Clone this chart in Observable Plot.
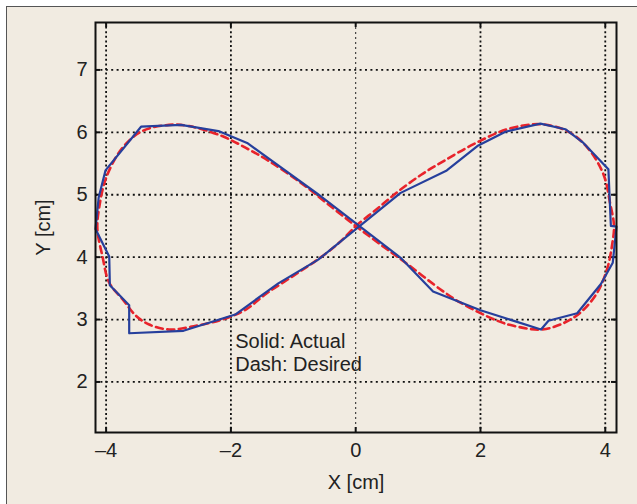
<!DOCTYPE html>
<html>
<head>
<meta charset="utf-8">
<script src="https://cdn.jsdelivr.net/npm/d3@7"></script>
<script src="https://cdn.jsdelivr.net/npm/@observablehq/plot@0.6"></script>
<style>
  html, body { margin: 0; padding: 0; background: #ffffff; }
  #panel { position: absolute; left: 6px; top: 6px; width: 640px; height: 510px;
           background: #f1ebe1; border-top: 1.5px solid #555; border-left: 1.5px solid #555; }
  #chart { position: absolute; left: 0; top: 0; }
  svg { font-family: "Liberation Sans", Arial, sans-serif; }
</style>
</head>
<body>
<div id="panel"></div>
<div id="chart"></div>
<script>
// Actual trajectory (solid blue)
const actualX = [0.72, 1.46, 1.95, 2.40, 2.96, 3.36, 3.65, 4.05, 4.09, 4.18, 4.12, 3.93, 3.55, 3.09, 2.97, 2.00, 1.24, 0.72,
                 -0.62, -1.74, -2.20, -2.80, -3.44, -4.01, -4.12, -4.17, -3.95, -3.94, -3.63, -3.63, -2.76, -1.93, -1.24, -0.60, 0.72];
const actualY = [5.03, 5.39, 5.78, 6.01, 6.14, 6.05, 5.83, 5.41, 4.50, 4.49, 3.91, 3.57, 3.10, 2.98, 2.84, 3.15, 3.45, 3.99,
                 5.02, 5.83, 6.02, 6.12, 6.09, 5.39, 4.95, 4.45, 4.01, 3.55, 3.23, 2.78, 2.82, 3.08, 3.58, 3.96, 5.03];

// Desired trajectory (dashed red)
const desiredX = [0.00, 0.35, 0.69, 1.05, 1.41, 1.89, 2.43, 2.96, 3.39, 3.71, 3.97, 4.08, 4.14, 4.11, 4.03, 3.87, 3.60, 3.28, 2.96, 2.53, 2.27, 1.68, 1.39, 0.80, 0.40,
                  0.00, -0.37, -0.85, -1.39, -1.76, -2.14, -2.67, -2.99, -3.42, -3.74, -4.00, -4.11, -4.14, -4.06, -3.95, -3.74, -3.52, -3.31, -2.99, -2.56, -2.14, -1.76, -1.44, -1.00, -0.64, -0.30, 0.00];
const desiredY = [4.50, 4.78, 5.06, 5.32, 5.54, 5.81, 6.05, 6.13, 6.02, 5.76, 5.33, 4.85, 4.50, 4.20, 3.81, 3.43, 3.11, 2.92, 2.84, 2.90, 2.98, 3.27, 3.46, 3.91, 4.20,
                  4.50, 4.79, 5.17, 5.54, 5.75, 5.94, 6.10, 6.12, 6.02, 5.75, 5.27, 4.80, 4.45, 4.02, 3.59, 3.33, 3.06, 2.92, 2.84, 2.90, 3.00, 3.16, 3.41, 3.70, 3.94, 4.20, 4.50];

const xTicks = [-4, -2, 0, 2, 4];
const yTicks = [2, 3, 4, 5, 6, 7];
const notes = ["Solid: Actual", "Dash: Desired"];
const noteY = [2.65, 2.28];
const noteX = -1.93;

const xDomain = [-4.17, 4.18];
const yDomain = [1.19, 7.76];

const actual = actualX.map((x, i) => ({x, y: actualY[i]}));
const desired = desiredX.map((x, i) => ({x, y: desiredY[i]}));
const noteData = notes.map((t, i) => ({t, x: noteX, y: noteY[i]}));

const tx = 0.08, ty = 0.08;
const fmt = d => d < 0 ? "\u2013" + Math.abs(d) : String(d);

const chart = Plot.plot({
  width: 637,
  height: 504,
  marginLeft: 95,
  marginRight: 21,
  marginTop: 22,
  marginBottom: 72,
  style: {background: "transparent", fontSize: "19px", color: "#222"},
  x: {domain: xDomain},
  y: {domain: yDomain},
  marks: [
    Plot.gridX(xTicks.filter(d => d !== 0), {stroke: "#111", strokeOpacity: 1, strokeWidth: 1.8, strokeDasharray: "2,2.6"}),
    Plot.gridX([0], {stroke: "#222", strokeOpacity: 1, strokeWidth: 1, strokeDasharray: "2,3"}),
    Plot.gridY(yTicks, {stroke: "#111", strokeOpacity: 1, strokeWidth: 1.8, strokeDasharray: "2,3.4"}),
    Plot.ruleY(yTicks, {x1: xDomain[0], x2: xDomain[0] + tx, stroke: "#111", strokeWidth: 2}),
    Plot.ruleY(yTicks, {x1: xDomain[1] - tx, x2: xDomain[1], stroke: "#111", strokeWidth: 2}),
    Plot.ruleX(xTicks, {y1: yDomain[0], y2: yDomain[0] + ty, stroke: "#111", strokeWidth: 2}),
    Plot.ruleX(xTicks, {y1: yDomain[1] - ty, y2: yDomain[1], stroke: "#111", strokeWidth: 2}),
    Plot.axisX(xTicks, {tickSize: 0, tickPadding: 10, fontSize: 20, tickFormat: fmt, label: "X [cm]", labelAnchor: "center", labelArrow: "none", labelOffset: 56, fill: "#222"}),
    Plot.axisY(yTicks, {tickSize: 0, tickPadding: 8, fontSize: 20, tickFormat: fmt, label: "Y [cm]", labelAnchor: "center", labelArrow: "none", labelOffset: 60, fill: "#222"}),
    Plot.line(desired, {x: "x", y: "y", stroke: "#e8232b", strokeWidth: 2.6, strokeDasharray: "7,4.5", curve: "catmull-rom"}),
    Plot.line(actual, {x: "x", y: "y", stroke: "#263f9c", strokeWidth: 2.2, curve: "linear"}),
    Plot.text(noteData, {x: "x", y: "y", text: "t", textAnchor: "start", lineAnchor: "middle", fontSize: 20, fill: "#222"}),
    Plot.frame({stroke: "#111", strokeWidth: 2})
  ]
});
document.getElementById("chart").appendChild(chart);
</script>
</body>
</html>
